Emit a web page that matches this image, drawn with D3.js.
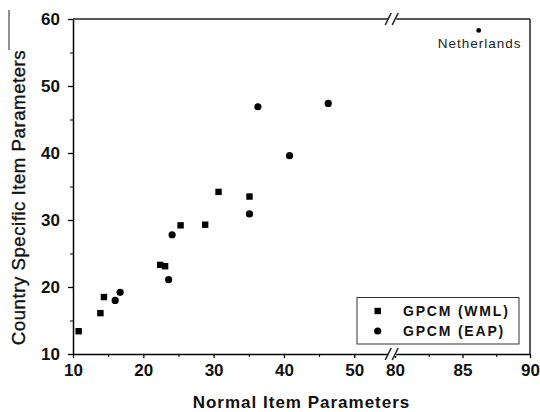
<!DOCTYPE html>
<html><head><meta charset="utf-8">
<script src="https://cdn.jsdelivr.net/npm/d3@7"></script>
<style>body{margin:0;background:#fff;}svg{display:block;font-family:"Liberation Sans",Arial,sans-serif;}</style>
</head><body><svg id="c" width="540" height="412"></svg>
<script>
const wmlX = [10.8, 13.9, 14.4, 22.4, 23.1, 25.3, 28.8, 30.7, 35.1];
const wmlY = [13.4, 16.1, 18.5, 23.3, 23.1, 29.2, 29.3, 34.2, 33.5];
const eapX = [16.0, 16.7, 23.6, 24.1, 35.1, 36.3, 40.8, 46.3, 86.2];
const eapY = [18.0, 19.2, 21.1, 27.8, 30.9, 46.9, 39.6, 47.4, 58.3];
const eapLabels = ["", "", "", "", "", "", "", "", "Netherlands"];
const xMajor = [10, 20, 30, 40, 50, 80, 85, 90];
const xMinor = [15, 25, 35, 45, 82.5, 87.5];
const yMajor = [10, 20, 30, 40, 50, 60];
const yMinor = [15, 25, 35, 45, 55];
const seriesNames = ["GPCM (WML)", "GPCM (EAP)"];
const xTitle = "Normal Item Parameters";
const yTitle = "Country Specific Item Parameters";

const L = 73, R = 530, T = 19, B = 354;
const svg = d3.select("#c");
const x = d3.scaleLinear().domain([10, 55, 80, 90]).range([L, 389.4, 395, R]);
const y = d3.scaleLinear().domain([10, 60]).range([B, T]);

// stray line at far left
svg.append("line").attr("x1", 9).attr("x2", 9).attr("y1", 10).attr("y2", 50).attr("stroke", "#222").attr("stroke-width", 1);

// x axis
const xa = svg.append("g").attr("transform", `translate(0,${B})`)
  .call(d3.axisBottom(x).tickValues(xMajor).tickSize(4).tickSizeOuter(0).tickPadding(6));
xa.select(".domain").attr("stroke-width", 1.5);
xa.selectAll(".tick line").attr("stroke-width", 1.3);
xa.selectAll("text").attr("font-size", 17).attr("font-weight", "bold").attr("fill", "#111");
svg.append("g").attr("transform", `translate(0,${B})`)
  .call(d3.axisBottom(x).tickValues(xMinor).tickSize(3).tickSizeOuter(0).tickFormat(""))
  .call(g => g.select(".domain").remove());

// y axis
const ya = svg.append("g").attr("transform", `translate(${L},0)`)
  .call(d3.axisLeft(y).tickValues(yMajor).tickSize(5).tickSizeOuter(0).tickPadding(8));
ya.select(".domain").attr("stroke-width", 1.5);
ya.selectAll(".tick line").attr("stroke-width", 1.3);
ya.selectAll("text").attr("font-size", 17).attr("font-weight", "bold").attr("fill", "#111");
svg.append("g").attr("transform", `translate(${L},0)`)
  .call(d3.axisLeft(y).tickValues(yMinor).tickSize(3).tickSizeOuter(0).tickFormat(""))
  .call(g => g.select(".domain").remove());

// top & right frame
svg.append("line").attr("x1", L).attr("x2", R).attr("y1", T).attr("y2", T).attr("stroke", "#222").attr("stroke-width", 1.5);
svg.append("line").attr("x1", R).attr("x2", R).attr("y1", T).attr("y2", B).attr("stroke", "#222").attr("stroke-width", 1.5);

// break marks
const bx = (x(55) + x(80)) / 2;
[T, B].forEach(yy => {
  svg.append("rect").attr("x", bx - 4).attr("y", yy - 2).attr("width", 8).attr("height", 4).attr("fill", "#fff");
  [-4, 3].forEach(dx => {
    svg.append("line").attr("x1", bx + dx - 3).attr("y1", yy + 6).attr("x2", bx + dx + 3).attr("y2", yy - 6)
      .attr("stroke", "#222").attr("stroke-width", 1.5);
  });
});

// data
svg.append("g").selectAll("rect").data(wmlX.map((v, i) => [v, wmlY[i]])).join("rect")
  .attr("x", d => x(d[0]) - 3.2).attr("y", d => y(d[1]) - 3.2).attr("width", 6.4).attr("height", 6.4).attr("fill", "#000");
svg.append("g").selectAll("circle").data(eapX.map((v, i) => [v, eapY[i], eapLabels[i]])).join("circle")
  .attr("cx", d => x(d[0])).attr("cy", d => y(d[1])).attr("r", d => d[2] ? 2.4 : 3.6).attr("fill", "#000");
svg.append("g").selectAll("text").data(eapX.map((v, i) => [v, eapY[i], eapLabels[i]]).filter(d => d[2])).join("text")
  .attr("x", d => x(d[0]) + 1).attr("y", d => y(d[1]) + 18).attr("text-anchor", "middle")
  .attr("font-size", 13.5).attr("letter-spacing", 1).attr("fill", "#222").text(d => d[2]);

// legend
const lg = svg.append("g");
lg.append("rect").attr("x", 357).attr("y", 297.5).attr("width", 162).attr("height", 46.5).attr("fill", "#fff").attr("stroke", "#333").attr("stroke-width", 1);
seriesNames.forEach((s, i) => {
  const cy = 311 + i * 20;
  if (i === 0) lg.append("rect").attr("x", 374.5).attr("y", cy - 3.2).attr("width", 6.4).attr("height", 6.4).attr("fill", "#000");
  else lg.append("circle").attr("cx", 377.7).attr("cy", cy).attr("r", 3.6).attr("fill", "#000");
  lg.append("text").attr("x", 403).attr("y", cy + 5).attr("font-size", 14).attr("font-weight", "bold")
    .attr("letter-spacing", 1.8).attr("fill", "#111").text(s);
});

// titles
svg.append("text").attr("x", (193 + 410) / 2).attr("y", 408).attr("text-anchor", "middle")
  .attr("font-size", 17).attr("font-weight", "bold").attr("letter-spacing", 1).attr("fill", "#111").text(xTitle);
svg.append("text").attr("transform", `translate(25,197.5) rotate(-90)`).attr("text-anchor", "middle")
  .attr("font-size", 18.7).attr("letter-spacing", 0.5).attr("fill", "#111")
  .attr("stroke", "#111").attr("stroke-width", 0.35).text(yTitle);
</script></body></html>
